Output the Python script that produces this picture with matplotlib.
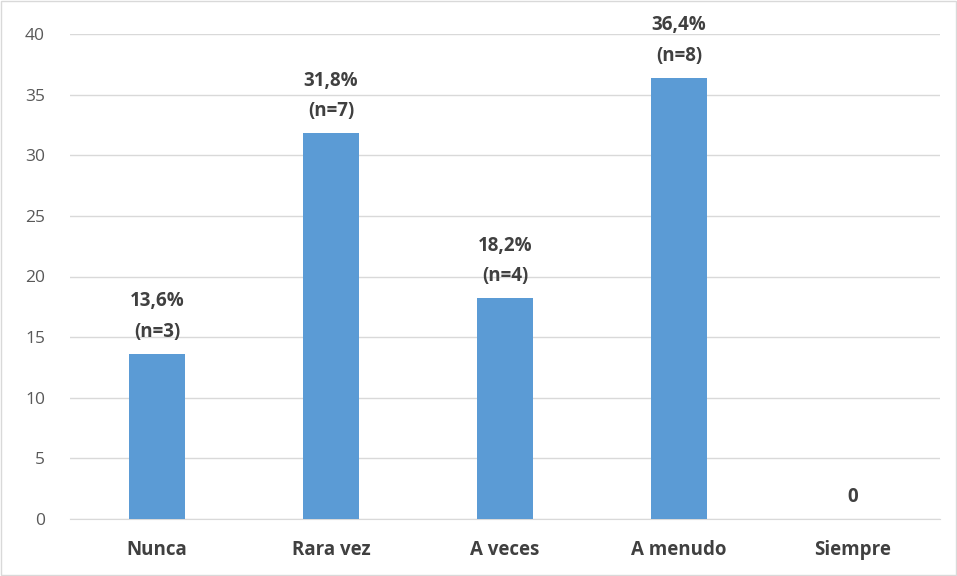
import matplotlib
matplotlib.use("Agg")
import matplotlib.pyplot as plt
from matplotlib.patches import Rectangle

categories = ["Nunca", "Rara vez", "A veces", "A menudo", "Siempre"]
values = [13.6, 31.8, 18.2, 36.4, 0]
labels = ["13,6%\n(n=3)", "31,8%\n(n=7)", "18,2%\n(n=4)", "36,4%\n(n=8)", "0"]
yticks = [0, 5, 10, 15, 20, 25, 30, 35, 40]

plt.rcParams['font.family'] = ['Open Sans', 'DejaVu Sans']

fig = plt.figure(figsize=(9.57, 5.76), dpi=100)
ax = fig.add_axes([70/957, 1-519/576, 870/957, (519-34)/576])

x = range(len(categories))
ax.bar(x, values, width=0.32, color="#5B9BD5", zorder=3)
ax.set_xlim(-0.5, len(categories)-0.5)
ax.set_ylim(0, 40)
ax.set_yticks(yticks)
ax.set_xticks(list(x))
ax.set_xticklabels(categories, fontsize=13.5, fontweight="bold", color="#404040")
ax.tick_params(axis="y", labelsize=12.5, labelcolor="#595959", length=0, pad=18)
ax.tick_params(axis="x", length=0, pad=15)
ax.grid(axis="y", color="#D9D9D9", linewidth=1, zorder=0)
for s in ["top", "right", "left"]:
    ax.spines[s].set_visible(False)
ax.spines["bottom"].set_color("#D9D9D9")

for xi, v, lab in zip(x, values, labels):
    ax.text(xi, v + 1.0, lab, ha="center", va="bottom", fontsize=13.5,
            fontweight="bold", color="#404040", linespacing=1.7)

fig.patches.append(Rectangle((0.001, 0.001), 0.998, 0.998, transform=fig.transFigure,
                             fill=False, edgecolor="#D9D9D9", linewidth=1))

fig.savefig("out.png", dpi=100)
